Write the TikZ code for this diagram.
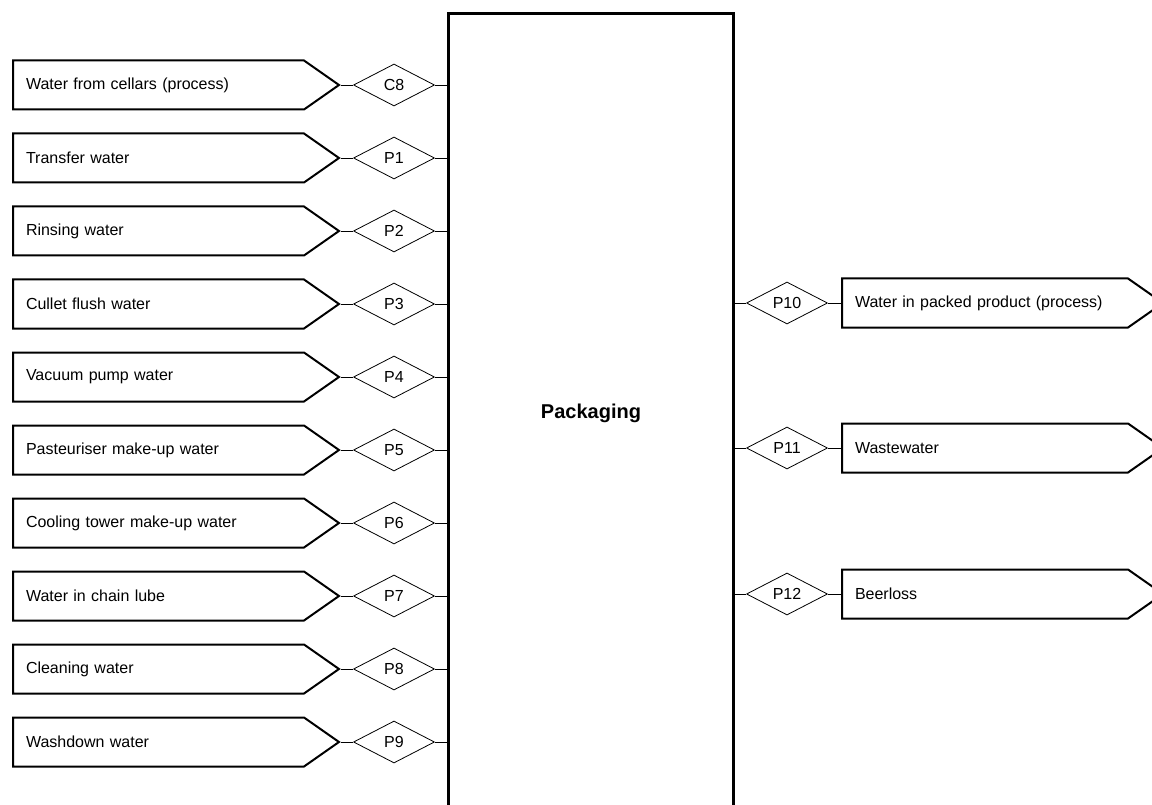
\documentclass[tikz,border=0pt]{standalone}
\usepackage{fontspec}
\setmainfont{Liberation Sans}
\usetikzlibrary{shapes.symbols,shapes.geometric}

\begin{document}
\begin{tikzpicture}
  [x=1pt, y=-1pt, font=\fontsize{16}{19}\selectfont,
   stream/.style={draw, line width=2pt, shape=signal, signal to=east, signal pointer angle=70,
     minimum height=49pt, inner xsep=13pt, align=left, anchor=west},
   flowtag/.style={draw, shape=diamond, inner sep=0pt, minimum width=81pt, minimum height=42pt, line width=0.8pt},
   link/.style={line width=0.8pt}]
  \useasboundingbox (0,0) rectangle (1152,805);

  \node [draw, line width=3pt, minimum width=285pt, minimum height=800pt, anchor=north west,
    font=\fontsize{20}{24}\selectfont\bfseries] (pack) at (447,12) {Packaging};

  % incoming water streams
  \foreach \name/\tag [count=\i] in {Water from cellars (process)/C8, Transfer water/P1,
    Rinsing water/P2, Cullet flush water/P3, Vacuum pump water/P4,
    Pasteuriser make-up water/P5, Cooling tower make-up water/P6,
    Water in chain lube/P7, Cleaning water/P8, Washdown water/P9} {
    \node [stream, text width=265pt] (in\i) at (12, {85+73*(\i-1)}) {\name};
    \node [flowtag] (tag\i) at (394, {85+73*(\i-1)}) {\tag};
    \draw [link] (in\i.east) -- (tag\i.west);
    \draw [link] (tag\i.east) -- (pack.west |- tag\i.east);
  }

  % outgoing streams
  \foreach \name/\tag/\y in {Water in packed product (process)/P10/303, Wastewater/P11/448, Beerloss/P12/594} {
    \node [flowtag] (out\tag) at (787, \y) {\tag};
    \node [stream, text width=260pt] (sink\tag) at (841, \y) {\name};
    \draw [link] (pack.east |- out\tag.west) -- (out\tag.west);
    \draw [link] (out\tag.east) -- (sink\tag.west);
  }
\end{tikzpicture}
\end{document}
